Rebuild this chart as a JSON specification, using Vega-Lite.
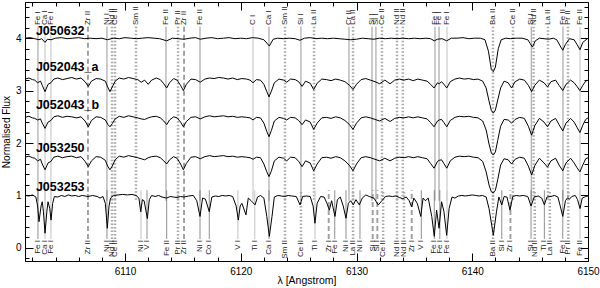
{
"$schema":"https://vega.github.io/schema/vega-lite/v6.json",
"width":563,"height":259,
"autosize":{"type":"none"},
"padding":{"left":25,"top":2,"right":12,"bottom":27},
"background":"white",
"config":{"view":{"stroke":"#000","strokeWidth":1},"axis":{"domainColor":"#000","tickColor":"#000","labelColor":"#000","titleColor":"#000","labelFont":"Liberation Sans","titleFont":"Liberation Sans","grid":false,"titleFontWeight":"normal"},"text":{"font":"Liberation Sans"}},
"datasets":{
"top":[
{"lab":"Fe I","w":6102.48,"g":"solid"},{"lab":"Ca I","w":6103.09,"g":"strong"},{"lab":"Fe I","w":6103.6,"g":"strong"},{"lab":"Zr II","w":6106.8,"g":"dashed"},{"lab":"Ni I","w":6108.44,"g":"solid"},{"lab":"Nd II","w":6108.88,"g":"dotted"},{"lab":"Ce II","w":6109.14,"g":"dotted"},{"lab":"Sm II","w":6110.95,"g":"dotted"},{"lab":"Fe II","w":6113.54,"g":"solid"},{"lab":"Pr II","w":6114.58,"g":"dotted"},{"lab":"Zr II","w":6115.1,"g":"dashed"},{"lab":"Fe II","w":6116.48,"g":"solid"},{"lab":"C I","w":6121.06,"g":"strong"},{"lab":"Ca I","w":6122.44,"g":"solid"},{"lab":"Sm II","w":6123.82,"g":"dotted"},{"lab":"Si I","w":6125.2,"g":"solid"},{"lab":"La II","w":6126.33,"g":"dotted"},{"lab":"Cr II","w":6129.35,"g":"solid"},{"lab":"La II","w":6129.7,"g":"dotted"},{"lab":"Si I","w":6131.34,"g":"solid"},{"lab":"Si I","w":6131.68,"g":"solid"},{"lab":"Ce II","w":6132.2,"g":"dotted"},{"lab":"Nd II","w":6133.5,"g":"dotted"},{"lab":"Nd II","w":6134.0,"g":"dotted"},{"lab":"Fe I","w":6136.78,"g":"solid"},{"lab":"Fe I","w":6137.13,"g":"solid"},{"lab":"Fe I","w":6137.82,"g":"strong"},{"lab":"Ba II","w":6141.79,"g":"dotted"},{"lab":"Ce II","w":6143.52,"g":"dotted"},{"lab":"Si I","w":6145.1,"g":"solid"},{"lab":"Nd II","w":6145.3,"g":"dotted"},{"lab":"La II","w":6146.54,"g":"dotted"},{"lab":"Fe II","w":6147.84,"g":"solid"},{"lab":"Pr II","w":6148.27,"g":"dotted"},{"lab":"Fe II","w":6149.31,"g":"strong"}],
"bot":[
{"lab":"Fe I","w":6102.48,"g":"solid"},{"lab":"Ca I","w":6103.09,"g":"strong"},{"lab":"Fe I","w":6103.6,"g":"strong"},{"lab":"Zr II","w":6106.8,"g":"dashed"},{"lab":"Ni I","w":6108.44,"g":"solid"},{"lab":"Nd II","w":6108.88,"g":"dotted"},{"lab":"Ce II","w":6109.14,"g":"dotted"},{"lab":"Ni I","w":6111.38,"g":"strong"},{"lab":"V I","w":6111.9,"g":"solid"},{"lab":"Fe II","w":6113.6,"g":"solid"},{"lab":"Pr II","w":6114.58,"g":"dotted"},{"lab":"Zr II","w":6115.1,"g":"dashed"},{"lab":"Ni I","w":6116.48,"g":"solid"},{"lab":"Co I","w":6117.28,"g":"solid"},{"lab":"V I","w":6119.75,"g":"strong"},{"lab":"Ti I","w":6121.2,"g":"strong"},{"lab":"Ca I","w":6122.44,"g":"solid"},{"lab":"Sm II","w":6123.82,"g":"dotted"},{"lab":"Ce II","w":6125.2,"g":"dotted"},{"lab":"Ti I","w":6126.41,"g":"strong"},{"lab":"Zr I","w":6127.6,"g":"dashed"},{"lab":"Fe I","w":6128.12,"g":"solid"},{"lab":"Ni I","w":6129.09,"g":"solid"},{"lab":"La II","w":6129.7,"g":"dotted"},{"lab":"Ni I","w":6130.3,"g":"solid"},{"lab":"Si I","w":6131.4,"g":"dashed"},{"lab":"Si I","w":6131.8,"g":"dashed"},{"lab":"Ce II","w":6132.3,"g":"dotted"},{"lab":"Nd II","w":6133.5,"g":"dotted"},{"lab":"Nd II","w":6134.1,"g":"dotted"},{"lab":"Zr I","w":6134.77,"g":"dashed"},{"lab":"V I","w":6135.6,"g":"solid"},{"lab":"Fe I","w":6136.72,"g":"solid"},{"lab":"Fe I","w":6137.2,"g":"solid"},{"lab":"Fe I","w":6137.82,"g":"strong"},{"lab":"Ba II","w":6141.8,"g":"dotted"},{"lab":"Si I","w":6142.55,"g":"solid"},{"lab":"Zr I","w":6143.3,"g":"dashed"},{"lab":"Si I","w":6145.08,"g":"solid"},{"lab":"Nd II","w":6145.4,"g":"dotted"},{"lab":"Ti I","w":6146.23,"g":"solid"},{"lab":"La II","w":6146.7,"g":"dotted"},{"lab":"Fe I","w":6147.82,"g":"solid"},{"lab":"Pr II","w":6148.3,"g":"dotted"},{"lab":"Fe II","w":6149.31,"g":"strong"}],
"names":[{"name":"J050632","w":6102.3,"f":4.07},{"name":"J052043_a","w":6102.3,"f":3.37},{"name":"J052043_b","w":6102.3,"f":2.64},{"name":"J053250","w":6102.3,"f":1.83},{"name":"J053253","w":6102.3,"f":1.08}],
"wide":[
{"w":6101.36,"J052043_a":3.22,"J052043_b":2.49,"J053250":1.73},
{"w":6101.7,"J052043_a":3.24,"J052043_b":2.51,"J053250":1.75},
{"w":6102.0,"J052043_a":3.21,"J052043_b":2.48,"J053250":1.72},
{"w":6102.2,"J052043_a":3.20,"J052043_b":2.47,"J053250":1.71},
{"w":6102.45,"J052043_a":3.15,"J052043_b":2.44,"J053250":1.66},
{"w":6102.7,"J052043_a":3.18,"J052043_b":2.46,"J053250":1.69},
{"w":6102.85,"J052043_a":3.10,"J052043_b":2.38,"J053250":1.6},
{"w":6103.09,"J052043_a":2.98,"J052043_b":2.28,"J053250":1.49},
{"w":6103.35,"J052043_a":3.12,"J052043_b":2.4,"J053250":1.62},
{"w":6103.6,"J052043_a":3.15,"J052043_b":2.43,"J053250":1.65},
{"w":6103.85,"J052043_a":3.22,"J052043_b":2.5,"J053250":1.73},
{"w":6104.2,"J052043_a":3.24,"J052043_b":2.52,"J053250":1.75},
{"w":6104.6,"J052043_a":3.21,"J052043_b":2.49,"J053250":1.72},
{"w":6105.0,"J052043_a":3.23,"J052043_b":2.51,"J053250":1.74},
{"w":6105.4,"J052043_a":3.25,"J052043_b":2.5,"J053250":1.75},
{"w":6105.8,"J052043_a":3.22,"J052043_b":2.48,"J053250":1.72},
{"w":6106.2,"J052043_a":3.24,"J052043_b":2.5,"J053250":1.74},
{"w":6106.55,"J052043_a":3.17,"J052043_b":2.42,"J053250":1.65},
{"w":6106.83,"J052043_a":3.08,"J052043_b":2.31,"J053250":1.55},
{"w":6107.1,"J052043_a":3.18,"J052043_b":2.43,"J053250":1.66},
{"w":6107.5,"J052043_a":3.23,"J052043_b":2.5,"J053250":1.74},
{"w":6107.9,"J052043_a":3.22,"J052043_b":2.49,"J053250":1.73},
{"w":6108.3,"J052043_a":3.18,"J052043_b":2.44,"J053250":1.67},
{"w":6108.5,"J052043_a":3.07,"J052043_b":2.36,"J053250":1.56},
{"w":6108.7,"J052043_a":2.98,"J052043_b":2.31,"J053250":1.49},
{"w":6108.9,"J052043_a":3.07,"J052043_b":2.37,"J053250":1.56},
{"w":6109.15,"J052043_a":3.18,"J052043_b":2.46,"J053250":1.68},
{"w":6109.5,"J052043_a":3.24,"J052043_b":2.51,"J053250":1.75},
{"w":6109.9,"J052043_a":3.22,"J052043_b":2.49,"J053250":1.73},
{"w":6110.3,"J052043_a":3.25,"J052043_b":2.52,"J053250":1.76},
{"w":6110.7,"J052043_a":3.23,"J052043_b":2.5,"J053250":1.74},
{"w":6111.1,"J052043_a":3.21,"J052043_b":2.48,"J053250":1.72},
{"w":6111.4,"J052043_a":3.16,"J052043_b":2.46,"J053250":1.7},
{"w":6111.7,"J052043_a":3.2,"J052043_b":2.45,"J053250":1.68},
{"w":6112.0,"J052043_a":3.12,"J052043_b":2.48,"J053250":1.72},
{"w":6112.3,"J052043_a":3.2,"J052043_b":2.5,"J053250":1.74},
{"w":6112.7,"J052043_a":3.24,"J052043_b":2.51,"J053250":1.75},
{"w":6113.05,"J052043_a":3.21,"J052043_b":2.48,"J053250":1.72},
{"w":6113.35,"J052043_a":3.13,"J052043_b":2.42,"J053250":1.66},
{"w":6113.6,"J052043_a":3.05,"J052043_b":2.35,"J053250":1.6},
{"w":6113.85,"J052043_a":3.15,"J052043_b":2.44,"J053250":1.68},
{"w":6114.2,"J052043_a":3.23,"J052043_b":2.5,"J053250":1.74},
{"w":6114.5,"J052043_a":3.2,"J052043_b":2.48,"J053250":1.71},
{"w":6114.8,"J052043_a":3.1,"J052043_b":2.4,"J053250":1.6},
{"w":6115.04,"J052043_a":3.0,"J052043_b":2.31,"J053250":1.49},
{"w":6115.3,"J052043_a":3.12,"J052043_b":2.41,"J053250":1.61},
{"w":6115.7,"J052043_a":3.22,"J052043_b":2.49,"J053250":1.73},
{"w":6116.1,"J052043_a":3.21,"J052043_b":2.5,"J053250":1.74},
{"w":6116.5,"J052043_a":3.16,"J052043_b":2.46,"J053250":1.7},
{"w":6116.9,"J052043_a":3.22,"J052043_b":2.5,"J053250":1.74},
{"w":6117.3,"J052043_a":3.24,"J052043_b":2.52,"J053250":1.76},
{"w":6117.7,"J052043_a":3.23,"J052043_b":2.5,"J053250":1.74},
{"w":6118.1,"J052043_a":3.25,"J052043_b":2.51,"J053250":1.75},
{"w":6118.5,"J052043_a":3.24,"J052043_b":2.52,"J053250":1.76},
{"w":6118.9,"J052043_a":3.22,"J052043_b":2.5,"J053250":1.74},
{"w":6119.3,"J052043_a":3.24,"J052043_b":2.51,"J053250":1.75},
{"w":6119.7,"J052043_a":3.21,"J052043_b":2.49,"J053250":1.73},
{"w":6120.1,"J052043_a":3.23,"J052043_b":2.5,"J053250":1.74},
{"w":6120.5,"J052043_a":3.22,"J052043_b":2.49,"J053250":1.73},
{"w":6120.8,"J052043_a":3.2,"J052043_b":2.48,"J053250":1.72},
{"w":6121.06,"J052043_a":3.15,"J052043_b":2.44,"J053250":1.69},
{"w":6121.35,"J052043_a":3.21,"J052043_b":2.49,"J053250":1.73},
{"w":6121.7,"J052043_a":3.2,"J052043_b":2.48,"J053250":1.72},
{"w":6122.0,"J052043_a":3.12,"J052043_b":2.38,"J053250":1.6},
{"w":6122.25,"J052043_a":2.98,"J052043_b":2.22,"J053250":1.45},
{"w":6122.44,"J052043_a":2.88,"J052043_b":2.12,"J053250":1.36},
{"w":6122.65,"J052043_a":2.99,"J052043_b":2.24,"J053250":1.47},
{"w":6122.9,"J052043_a":3.15,"J052043_b":2.42,"J053250":1.66},
{"w":6123.3,"J052043_a":3.22,"J052043_b":2.49,"J053250":1.73},
{"w":6123.7,"J052043_a":3.2,"J052043_b":2.47,"J053250":1.71},
{"w":6123.97,"J052043_a":3.16,"J052043_b":2.44,"J053250":1.66},
{"w":6124.3,"J052043_a":3.22,"J052043_b":2.49,"J053250":1.73},
{"w":6124.7,"J052043_a":3.21,"J052043_b":2.48,"J053250":1.72},
{"w":6125.0,"J052043_a":3.17,"J052043_b":2.43,"J053250":1.65},
{"w":6125.3,"J052043_a":3.08,"J052043_b":2.35,"J053250":1.55},
{"w":6125.6,"J052043_a":3.18,"J052043_b":2.44,"J053250":1.66},
{"w":6126.0,"J052043_a":3.14,"J052043_b":2.4,"J053250":1.62},
{"w":6126.3,"J052043_a":3.02,"J052043_b":2.26,"J053250":1.47},
{"w":6126.6,"J052043_a":3.14,"J052043_b":2.38,"J053250":1.6},
{"w":6127.0,"J052043_a":3.22,"J052043_b":2.48,"J053250":1.72},
{"w":6127.4,"J052043_a":3.21,"J052043_b":2.49,"J053250":1.73},
{"w":6127.8,"J052043_a":3.19,"J052043_b":2.47,"J053250":1.71},
{"w":6128.2,"J052043_a":3.22,"J052043_b":2.5,"J053250":1.74},
{"w":6128.6,"J052043_a":3.2,"J052043_b":2.48,"J053250":1.72},
{"w":6129.0,"J052043_a":3.17,"J052043_b":2.43,"J053250":1.66},
{"w":6129.4,"J052043_a":3.1,"J052043_b":2.35,"J053250":1.57},
{"w":6129.7,"J052043_a":3.02,"J052043_b":2.26,"J053250":1.47},
{"w":6130.0,"J052043_a":3.12,"J052043_b":2.38,"J053250":1.6},
{"w":6130.4,"J052043_a":3.21,"J052043_b":2.48,"J053250":1.72},
{"w":6130.8,"J052043_a":3.23,"J052043_b":2.5,"J053250":1.74},
{"w":6131.2,"J052043_a":3.2,"J052043_b":2.48,"J053250":1.72},
{"w":6131.6,"J052043_a":3.17,"J052043_b":2.45,"J053250":1.69},
{"w":6132.0,"J052043_a":3.13,"J052043_b":2.42,"J053250":1.66},
{"w":6132.45,"J052043_a":3.2,"J052043_b":2.47,"J053250":1.71},
{"w":6132.9,"J052043_a":3.13,"J052043_b":2.41,"J053250":1.66},
{"w":6133.3,"J052043_a":3.2,"J052043_b":2.47,"J053250":1.71},
{"w":6133.7,"J052043_a":3.22,"J052043_b":2.49,"J053250":1.73},
{"w":6134.1,"J052043_a":3.2,"J052043_b":2.48,"J053250":1.72},
{"w":6134.5,"J052043_a":3.22,"J052043_b":2.5,"J053250":1.74},
{"w":6134.9,"J052043_a":3.19,"J052043_b":2.48,"J053250":1.72},
{"w":6135.3,"J052043_a":3.22,"J052043_b":2.5,"J053250":1.74},
{"w":6135.7,"J052043_a":3.2,"J052043_b":2.48,"J053250":1.72},
{"w":6136.1,"J052043_a":3.18,"J052043_b":2.46,"J053250":1.7},
{"w":6136.4,"J052043_a":3.12,"J052043_b":2.39,"J053250":1.61},
{"w":6136.7,"J052043_a":3.05,"J052043_b":2.31,"J053250":1.52},
{"w":6137.0,"J052043_a":3.15,"J052043_b":2.42,"J053250":1.65},
{"w":6137.15,"J052043_a":3.13,"J052043_b":2.44,"J053250":1.67},
{"w":6137.35,"J052043_a":3.17,"J052043_b":2.45,"J053250":1.68},
{"w":6137.55,"J052043_a":3.12,"J052043_b":2.39,"J053250":1.61},
{"w":6137.8,"J052043_a":3.05,"J052043_b":2.31,"J053250":1.52},
{"w":6138.1,"J052043_a":3.17,"J052043_b":2.43,"J053250":1.66},
{"w":6138.5,"J052043_a":3.22,"J052043_b":2.49,"J053250":1.73},
{"w":6138.9,"J052043_a":3.24,"J052043_b":2.51,"J053250":1.75},
{"w":6139.3,"J052043_a":3.22,"J052043_b":2.5,"J053250":1.74},
{"w":6139.7,"J052043_a":3.23,"J052043_b":2.51,"J053250":1.75},
{"w":6140.1,"J052043_a":3.21,"J052043_b":2.49,"J053250":1.73},
{"w":6140.5,"J052043_a":3.22,"J052043_b":2.48,"J053250":1.72},
{"w":6140.9,"J052043_a":3.18,"J052043_b":2.42,"J053250":1.65},
{"w":6141.2,"J052043_a":3.05,"J052043_b":2.25,"J053250":1.45},
{"w":6141.45,"J052043_a":2.8,"J052043_b":1.98,"J053250":1.2},
{"w":6141.65,"J052043_a":2.62,"J052043_b":1.81,"J053250":1.07},
{"w":6141.82,"J052043_a":2.57,"J052043_b":1.77,"J053250":1.05},
{"w":6142.0,"J052043_a":2.63,"J052043_b":1.83,"J053250":1.1},
{"w":6142.2,"J052043_a":2.82,"J052043_b":2.05,"J053250":1.3},
{"w":6142.45,"J052043_a":3.05,"J052043_b":2.32,"J053250":1.58},
{"w":6142.75,"J052043_a":3.18,"J052043_b":2.45,"J053250":1.7},
{"w":6143.1,"J052043_a":3.15,"J052043_b":2.44,"J053250":1.68},
{"w":6143.4,"J052043_a":3.05,"J052043_b":2.38,"J053250":1.6},
{"w":6143.7,"J052043_a":3.17,"J052043_b":2.45,"J053250":1.69},
{"w":6144.1,"J052043_a":3.22,"J052043_b":2.49,"J053250":1.73},
{"w":6144.5,"J052043_a":3.2,"J052043_b":2.47,"J053250":1.71},
{"w":6144.85,"J052043_a":3.1,"J052043_b":2.32,"J053250":1.56},
{"w":6145.13,"J052043_a":2.98,"J052043_b":2.15,"J053250":1.39},
{"w":6145.4,"J052043_a":3.1,"J052043_b":2.33,"J053250":1.57},
{"w":6145.8,"J052043_a":3.2,"J052043_b":2.47,"J053250":1.71},
{"w":6146.2,"J052043_a":3.15,"J052043_b":2.4,"J053250":1.62},
{"w":6146.5,"J052043_a":3.07,"J052043_b":2.31,"J053250":1.54},
{"w":6146.8,"J052043_a":3.17,"J052043_b":2.42,"J053250":1.66},
{"w":6147.2,"J052043_a":3.2,"J052043_b":2.47,"J053250":1.71},
{"w":6147.5,"J052043_a":3.1,"J052043_b":2.35,"J053250":1.58},
{"w":6147.82,"J052043_a":3.0,"J052043_b":2.23,"J053250":1.47},
{"w":6148.1,"J052043_a":3.12,"J052043_b":2.38,"J053250":1.62},
{"w":6148.5,"J052043_a":3.2,"J052043_b":2.47,"J053250":1.71},
{"w":6148.8,"J052043_a":3.15,"J052043_b":2.4,"J053250":1.62},
{"w":6149.05,"J052043_a":3.08,"J052043_b":2.3,"J053250":1.53},
{"w":6149.3,"J052043_a":3.0,"J052043_b":2.2,"J053250":1.45},
{"w":6149.55,"J052043_a":3.1,"J052043_b":2.34,"J053250":1.58},
{"w":6149.8,"J052043_a":3.18,"J052043_b":2.45,"J053250":1.7},
{"w":6150.0,"J052043_a":3.2,"J052043_b":2.48,"J053250":1.72}],
"long":[
{"s":"J050632","w":6101.36,"f":4.0},{"s":"J050632","w":6101.8,"f":4.01},{"s":"J050632","w":6102.2,"f":3.99},{"s":"J050632","w":6102.57,"f":3.97},{"s":"J050632","w":6102.8,"f":3.99},{"s":"J050632","w":6103.09,"f":3.92},{"s":"J050632","w":6103.3,"f":3.98},{"s":"J050632","w":6103.61,"f":3.97},{"s":"J050632","w":6104.0,"f":4.0},{"s":"J050632","w":6104.5,"f":4.01},{"s":"J050632","w":6105.0,"f":3.99},{"s":"J050632","w":6105.5,"f":4.0},{"s":"J050632","w":6106.0,"f":4.01},{"s":"J050632","w":6106.5,"f":3.99},{"s":"J050632","w":6107.0,"f":4.0},{"s":"J050632","w":6107.5,"f":3.99},{"s":"J050632","w":6108.0,"f":4.0},{"s":"J050632","w":6108.47,"f":3.97},{"s":"J050632","w":6109.0,"f":4.0},{"s":"J050632","w":6109.5,"f":3.99},{"s":"J050632","w":6110.0,"f":4.01},{"s":"J050632","w":6110.5,"f":4.0},{"s":"J050632","w":6111.0,"f":3.99},{"s":"J050632","w":6111.5,"f":4.0},{"s":"J050632","w":6112.0,"f":4.01},{"s":"J050632","w":6112.5,"f":4.0},{"s":"J050632","w":6113.0,"f":3.99},{"s":"J050632","w":6113.6,"f":3.95},{"s":"J050632","w":6114.1,"f":4.0},{"s":"J050632","w":6114.6,"f":3.99},{"s":"J050632","w":6115.1,"f":3.98},{"s":"J050632","w":6115.6,"f":4.0},{"s":"J050632","w":6116.1,"f":4.01},{"s":"J050632","w":6116.5,"f":3.98},{"s":"J050632","w":6117.0,"f":4.0},{"s":"J050632","w":6117.5,"f":4.01},{"s":"J050632","w":6118.0,"f":3.99},{"s":"J050632","w":6118.5,"f":4.0},{"s":"J050632","w":6119.0,"f":4.01},{"s":"J050632","w":6119.5,"f":3.99},{"s":"J050632","w":6120.0,"f":4.0},{"s":"J050632","w":6120.5,"f":3.99},{"s":"J050632","w":6121.0,"f":4.01},{"s":"J050632","w":6121.5,"f":4.0},{"s":"J050632","w":6122.0,"f":3.97},{"s":"J050632","w":6122.47,"f":3.85},{"s":"J050632","w":6122.8,"f":3.98},{"s":"J050632","w":6123.2,"f":4.0},{"s":"J050632","w":6123.7,"f":3.99},{"s":"J050632","w":6124.2,"f":4.0},{"s":"J050632","w":6124.7,"f":3.99},{"s":"J050632","w":6125.12,"f":3.96},{"s":"J050632","w":6125.5,"f":4.0},{"s":"J050632","w":6126.0,"f":4.01},{"s":"J050632","w":6126.5,"f":3.99},{"s":"J050632","w":6127.0,"f":4.0},{"s":"J050632","w":6127.5,"f":3.99},{"s":"J050632","w":6128.0,"f":4.0},{"s":"J050632","w":6128.5,"f":3.99},{"s":"J050632","w":6129.0,"f":3.98},{"s":"J050632","w":6129.5,"f":3.97},{"s":"J050632","w":6130.0,"f":3.98},{"s":"J050632","w":6130.5,"f":4.0},{"s":"J050632","w":6131.0,"f":3.99},{"s":"J050632","w":6131.5,"f":3.98},{"s":"J050632","w":6132.0,"f":4.0},{"s":"J050632","w":6132.5,"f":3.99},{"s":"J050632","w":6133.0,"f":4.0},{"s":"J050632","w":6133.5,"f":3.99},{"s":"J050632","w":6134.0,"f":4.0},{"s":"J050632","w":6134.5,"f":3.99},{"s":"J050632","w":6135.0,"f":4.0},{"s":"J050632","w":6135.5,"f":3.99},{"s":"J050632","w":6136.0,"f":4.0},{"s":"J050632","w":6136.4,"f":3.99},{"s":"J050632","w":6136.72,"f":3.95},{"s":"J050632","w":6137.0,"f":3.98},{"s":"J050632","w":6137.4,"f":3.99},{"s":"J050632","w":6137.79,"f":3.95},{"s":"J050632","w":6138.2,"f":4.0},{"s":"J050632","w":6138.7,"f":4.0},{"s":"J050632","w":6139.2,"f":4.01},{"s":"J050632","w":6139.7,"f":3.99},{"s":"J050632","w":6140.2,"f":4.0},{"s":"J050632","w":6140.7,"f":4.0},{"s":"J050632","w":6141.1,"f":3.97},{"s":"J050632","w":6141.4,"f":3.75},{"s":"J050632","w":6141.65,"f":3.4},{"s":"J050632","w":6141.82,"f":3.36},{"s":"J050632","w":6142.0,"f":3.45},{"s":"J050632","w":6142.25,"f":3.8},{"s":"J050632","w":6142.5,"f":3.97},{"s":"J050632","w":6142.9,"f":4.0},{"s":"J050632","w":6143.3,"f":3.99},{"s":"J050632","w":6143.8,"f":4.0},{"s":"J050632","w":6144.3,"f":4.0},{"s":"J050632","w":6144.8,"f":3.97},{"s":"J050632","w":6145.0,"f":3.9},{"s":"J050632","w":6145.2,"f":3.83},{"s":"J050632","w":6145.45,"f":3.95},{"s":"J050632","w":6145.8,"f":4.0},{"s":"J050632","w":6146.2,"f":3.99},{"s":"J050632","w":6146.6,"f":3.98},{"s":"J050632","w":6147.0,"f":4.0},{"s":"J050632","w":6147.3,"f":3.97},{"s":"J050632","w":6147.6,"f":3.85},{"s":"J050632","w":6147.82,"f":3.77},{"s":"J050632","w":6148.05,"f":3.88},{"s":"J050632","w":6148.4,"f":3.99},{"s":"J050632","w":6148.8,"f":3.97},{"s":"J050632","w":6149.05,"f":3.88},{"s":"J050632","w":6149.31,"f":3.78},{"s":"J050632","w":6149.55,"f":3.92},{"s":"J050632","w":6150.0,"f":4.0},
{"s":"J053253","w":6101.36,"f":1.0},{"s":"J053253","w":6101.7,"f":0.99},{"s":"J053253","w":6102.0,"f":1.01},{"s":"J053253","w":6102.3,"f":0.97},{"s":"J053253","w":6102.45,"f":0.8},{"s":"J053253","w":6102.57,"f":0.5},{"s":"J053253","w":6102.75,"f":0.8},{"s":"J053253","w":6102.85,"f":0.88},{"s":"J053253","w":6102.95,"f":0.7},{"s":"J053253","w":6103.09,"f":0.28},{"s":"J053253","w":6103.25,"f":0.7},{"s":"J053253","w":6103.35,"f":0.88},{"s":"J053253","w":6103.5,"f":0.75},{"s":"J053253","w":6103.61,"f":0.53},{"s":"J053253","w":6103.75,"f":0.85},{"s":"J053253","w":6103.9,"f":0.98},{"s":"J053253","w":6104.2,"f":0.97},{"s":"J053253","w":6104.5,"f":1.0},{"s":"J053253","w":6104.8,"f":0.98},{"s":"J053253","w":6105.1,"f":1.01},{"s":"J053253","w":6105.4,"f":0.99},{"s":"J053253","w":6105.7,"f":1.0},{"s":"J053253","w":6106.0,"f":0.98},{"s":"J053253","w":6106.3,"f":1.0},{"s":"J053253","w":6106.8,"f":0.98},{"s":"J053253","w":6107.2,"f":1.0},{"s":"J053253","w":6107.6,"f":0.98},{"s":"J053253","w":6107.84,"f":0.95},{"s":"J053253","w":6108.1,"f":0.98},{"s":"J053253","w":6108.3,"f":0.85},{"s":"J053253","w":6108.47,"f":0.375},{"s":"J053253","w":6108.62,"f":0.8},{"s":"J053253","w":6108.75,"f":0.95},{"s":"J053253","w":6109.0,"f":1.0},{"s":"J053253","w":6109.4,"f":1.01},{"s":"J053253","w":6109.8,"f":1.02},{"s":"J053253","w":6110.2,"f":1.01},{"s":"J053253","w":6110.6,"f":1.02},{"s":"J053253","w":6110.95,"f":1.0},{"s":"J053253","w":6111.2,"f":0.95},{"s":"J053253","w":6111.36,"f":0.69},{"s":"J053253","w":6111.5,"f":0.92},{"s":"J053253","w":6111.65,"f":0.9},{"s":"J053253","w":6111.93,"f":0.56},{"s":"J053253","w":6112.1,"f":0.92},{"s":"J053253","w":6112.3,"f":1.0},{"s":"J053253","w":6112.6,"f":0.98},{"s":"J053253","w":6112.9,"f":1.0},{"s":"J053253","w":6113.2,"f":0.97},{"s":"J053253","w":6113.6,"f":0.95},{"s":"J053253","w":6113.9,"f":0.98},{"s":"J053253","w":6114.2,"f":0.97},{"s":"J053253","w":6114.5,"f":0.96},{"s":"J053253","w":6114.8,"f":0.98},{"s":"J053253","w":6115.1,"f":0.97},{"s":"J053253","w":6115.5,"f":0.99},{"s":"J053253","w":6115.9,"f":1.0},{"s":"J053253","w":6116.2,"f":0.9},{"s":"J053253","w":6116.48,"f":0.6},{"s":"J053253","w":6116.7,"f":0.95},{"s":"J053253","w":6116.95,"f":0.93},{"s":"J053253","w":6117.28,"f":0.69},{"s":"J053253","w":6117.5,"f":0.97},{"s":"J053253","w":6117.8,"f":0.99},{"s":"J053253","w":6118.1,"f":0.98},{"s":"J053253","w":6118.4,"f":1.0},{"s":"J053253","w":6118.7,"f":0.99},{"s":"J053253","w":6119.0,"f":1.0},{"s":"J053253","w":6119.3,"f":0.98},{"s":"J053253","w":6119.6,"f":0.8},{"s":"J053253","w":6119.79,"f":0.53},{"s":"J053253","w":6119.95,"f":0.8},{"s":"J053253","w":6120.1,"f":0.85},{"s":"J053253","w":6120.45,"f":0.63},{"s":"J053253","w":6120.65,"f":0.95},{"s":"J053253","w":6120.9,"f":0.9},{"s":"J053253","w":6121.23,"f":0.82},{"s":"J053253","w":6121.45,"f":0.97},{"s":"J053253","w":6121.7,"f":1.0},{"s":"J053253","w":6122.0,"f":0.95},{"s":"J053253","w":6122.25,"f":0.6},{"s":"J053253","w":6122.47,"f":0.22},{"s":"J053253","w":6122.7,"f":0.6},{"s":"J053253","w":6122.9,"f":0.97},{"s":"J053253","w":6123.2,"f":1.0},{"s":"J053253","w":6123.5,"f":0.99},{"s":"J053253","w":6123.8,"f":0.98},{"s":"J053253","w":6124.1,"f":1.0},{"s":"J053253","w":6124.4,"f":0.99},{"s":"J053253","w":6124.8,"f":0.98},{"s":"J053253","w":6125.12,"f":0.82},{"s":"J053253","w":6125.35,"f":0.98},{"s":"J053253","w":6125.7,"f":0.99},{"s":"J053253","w":6126.0,"f":0.98},{"s":"J053253","w":6126.25,"f":0.8},{"s":"J053253","w":6126.41,"f":0.47},{"s":"J053253","w":6126.6,"f":0.85},{"s":"J053253","w":6126.9,"f":0.98},{"s":"J053253","w":6127.2,"f":0.97},{"s":"J053253","w":6127.45,"f":0.85},{"s":"J053253","w":6127.65,"f":0.72},{"s":"J053253","w":6127.85,"f":0.9},{"s":"J053253","w":6128.14,"f":0.6},{"s":"J053253","w":6128.35,"f":0.92},{"s":"J053253","w":6128.6,"f":0.97},{"s":"J053253","w":6128.85,"f":0.8},{"s":"J053253","w":6129.09,"f":0.565},{"s":"J053253","w":6129.3,"f":0.85},{"s":"J053253","w":6129.5,"f":0.9},{"s":"J053253","w":6129.72,"f":0.82},{"s":"J053253","w":6129.95,"f":0.92},{"s":"J053253","w":6130.24,"f":0.82},{"s":"J053253","w":6130.5,"f":0.95},{"s":"J053253","w":6130.8,"f":1.01},{"s":"J053253","w":6131.1,"f":0.98},{"s":"J053253","w":6131.5,"f":0.95},{"s":"J053253","w":6131.88,"f":0.82},{"s":"J053253","w":6132.2,"f":0.9},{"s":"J053253","w":6132.5,"f":0.98},{"s":"J053253","w":6132.8,"f":0.99},{"s":"J053253","w":6133.1,"f":0.98},{"s":"J053253","w":6133.4,"f":0.99},{"s":"J053253","w":6133.7,"f":0.96},{"s":"J053253","w":6134.0,"f":0.94},{"s":"J053253","w":6134.3,"f":0.97},{"s":"J053253","w":6134.55,"f":0.9},{"s":"J053253","w":6134.77,"f":0.78},{"s":"J053253","w":6134.95,"f":0.95},{"s":"J053253","w":6135.25,"f":0.85},{"s":"J053253","w":6135.55,"f":0.6},{"s":"J053253","w":6135.75,"f":0.95},{"s":"J053253","w":6135.95,"f":0.9},{"s":"J053253","w":6136.2,"f":0.95},{"s":"J053253","w":6136.5,"f":0.6},{"s":"J053253","w":6136.72,"f":0.22},{"s":"J053253","w":6136.92,"f":0.72},{"s":"J053253","w":6137.13,"f":0.375},{"s":"J053253","w":6137.35,"f":0.88},{"s":"J053253","w":6137.55,"f":0.7},{"s":"J053253","w":6137.79,"f":0.24},{"s":"J053253","w":6138.0,"f":0.75},{"s":"J053253","w":6138.25,"f":0.97},{"s":"J053253","w":6138.5,"f":0.95},{"s":"J053253","w":6138.8,"f":0.99},{"s":"J053253","w":6139.1,"f":1.0},{"s":"J053253","w":6139.4,"f":0.99},{"s":"J053253","w":6139.7,"f":1.0},{"s":"J053253","w":6140.0,"f":1.01},{"s":"J053253","w":6140.3,"f":1.0},{"s":"J053253","w":6140.6,"f":0.99},{"s":"J053253","w":6140.9,"f":1.0},{"s":"J053253","w":6141.2,"f":0.97},{"s":"J053253","w":6141.45,"f":0.75},{"s":"J053253","w":6141.82,"f":0.24},{"s":"J053253","w":6142.1,"f":0.7},{"s":"J053253","w":6142.3,"f":0.97},{"s":"J053253","w":6142.55,"f":0.82},{"s":"J053253","w":6142.75,"f":0.98},{"s":"J053253","w":6143.0,"f":0.97},{"s":"J053253","w":6143.26,"f":0.72},{"s":"J053253","w":6143.5,"f":0.98},{"s":"J053253","w":6143.8,"f":1.0},{"s":"J053253","w":6144.1,"f":0.99},{"s":"J053253","w":6144.4,"f":1.0},{"s":"J053253","w":6144.8,"f":0.98},{"s":"J053253","w":6145.08,"f":0.8},{"s":"J053253","w":6145.35,"f":0.97},{"s":"J053253","w":6145.7,"f":0.99},{"s":"J053253","w":6146.0,"f":0.95},{"s":"J053253","w":6146.23,"f":0.82},{"s":"J053253","w":6146.45,"f":0.97},{"s":"J053253","w":6146.8,"f":0.98},{"s":"J053253","w":6147.1,"f":1.0},{"s":"J053253","w":6147.4,"f":0.97},{"s":"J053253","w":6147.6,"f":0.8},{"s":"J053253","w":6147.82,"f":0.6},{"s":"J053253","w":6148.05,"f":0.9},{"s":"J053253","w":6148.25,"f":0.96},{"s":"J053253","w":6148.4,"f":0.93},{"s":"J053253","w":6148.6,"f":0.98},{"s":"J053253","w":6148.9,"f":1.0},{"s":"J053253","w":6149.1,"f":0.92},{"s":"J053253","w":6149.31,"f":0.75},{"s":"J053253","w":6149.5,"f":0.95},{"s":"J053253","w":6149.8,"f":0.98},{"s":"J053253","w":6150.0,"f":0.99}]
},
"resolve":{"axis":{"x":"independent","y":"independent"}},
"layer":[
{"data":{"name":"top"},"mark":{"type":"rule"},
 "encoding":{
  "x":{"field":"w","type":"quantitative","scale":{"domain":[6101.36,6150],"nice":false,"zero":false},"axis":null},
  "y":{"datum":4.22,"type":"quantitative","scale":{"domain":[-0.25,4.69],"nice":false,"zero":false},"axis":null},
  "y2":{"datum":0.9},
  "color":{"field":"g","type":"nominal","scale":{"domain":["solid","strong","dashed","dotted"],"range":["#707070","#d2d2d2","#a0a0a0","#a8a8a8"]},"legend":null},
  "strokeDash":{"field":"g","type":"nominal","scale":{"domain":["solid","strong","dashed","dotted"],"range":[[1,0],[1,0],[5,3],[1.5,2]]},"legend":null},
  "strokeWidth":{"field":"g","type":"nominal","scale":{"domain":["solid","strong","dashed","dotted"],"range":[0.8,2.5,0.8,0.8]},"legend":null}}},
{"data":{"name":"bot"},"mark":{"type":"rule"},
 "encoding":{
  "x":{"field":"w","type":"quantitative","axis":null},
  "y":{"datum":0.17,"type":"quantitative","axis":null},
  "y2":{"datum":1.1},
  "color":{"field":"g","type":"nominal","legend":null},
  "strokeDash":{"field":"g","type":"nominal","legend":null},
  "strokeWidth":{"field":"g","type":"nominal","legend":null}}},
{"data":{"name":"top"},"mark":{"type":"text","angle":270,"align":"left","baseline":"middle","fontSize":8,"color":"#222"},
 "encoding":{"x":{"field":"w","type":"quantitative","axis":null},"y":{"datum":4.25,"type":"quantitative","axis":null},"text":{"field":"lab"}}},
{"data":{"name":"bot"},"mark":{"type":"text","angle":270,"align":"right","baseline":"middle","fontSize":8,"color":"#222"},
 "encoding":{"x":{"field":"w","type":"quantitative","axis":null},"y":{"datum":0.15,"type":"quantitative","axis":null},"text":{"field":"lab"}}},
{"data":{"name":"wide"},"transform":[{"fold":["J052043_a","J052043_b","J053250"]}],
 "mark":{"type":"line","color":"#000","strokeWidth":1},
 "encoding":{
  "x":{"field":"w","type":"quantitative","axis":{"title":"λ [Angstrom]","orient":"bottom","values":[6102,6104,6106,6108,6110,6112,6114,6116,6118,6120,6122,6124,6126,6128,6130,6132,6134,6136,6138,6140,6142,6144,6146,6148,6150],"labelExpr":"datum.value % 10 === 0 ? datum.label : ''","format":"d","tickSize":{"condition":{"test":"datum.value % 10 === 0","value":-8},"value":-4},"labelPadding":13,"labelFontSize":10,"titleFontSize":10.5,"titleY":22,"titleBaseline":"alphabetic","labelOverlap":false,"labelFlush":false}},
  "y":{"field":"value","type":"quantitative","axis":{"title":"Normalised Flux","orient":"left","values":[-0.2,0,0.2,0.4,0.6,0.8,1,1.2,1.4,1.6,1.8,2,2.2,2.4,2.6,2.8,3,3.2,3.4,3.6,3.8,4,4.2,4.4,4.6],"labelExpr":"abs(datum.value - round(datum.value)) < 0.01 ? format(datum.value,'d') : ''","tickSize":{"condition":{"test":"abs(datum.value - round(datum.value)) < 0.01","value":-8},"value":-4},"labelPadding":12,"labelFontSize":10,"titleFontSize":10,"titlePadding":4,"labelOverlap":false,"labelFlush":false}},
  "detail":{"field":"key"}}},
{"data":{"name":"long"},"mark":{"type":"line","color":"#000","strokeWidth":1},
 "encoding":{"x":{"field":"w","type":"quantitative","axis":null},"y":{"field":"f","type":"quantitative","axis":null},"detail":{"field":"s"}}},
{"data":{"name":"names"},"mark":{"type":"text","align":"left","baseline":"alphabetic","fontSize":12.5,"fontWeight":"bold","color":"#000"},
 "encoding":{
  "x":{"field":"w","type":"quantitative","axis":{"orient":"top","title":null,"labels":false,"domain":false,"values":[6102,6104,6106,6108,6110,6112,6114,6116,6118,6120,6122,6124,6126,6128,6130,6132,6134,6136,6138,6140,6142,6144,6146,6148,6150],"tickSize":{"condition":{"test":"datum.value % 10 === 0","value":-8},"value":-4}}},
  "y":{"field":"f","type":"quantitative","axis":{"orient":"right","title":null,"labels":false,"domain":false,"values":[-0.2,0,0.2,0.4,0.6,0.8,1,1.2,1.4,1.6,1.8,2,2.2,2.4,2.6,2.8,3,3.2,3.4,3.6,3.8,4,4.2,4.4,4.6],"tickSize":{"condition":{"test":"abs(datum.value - round(datum.value)) < 0.01","value":-8},"value":-4}}},
  "text":{"field":"name"}}}
]
}
